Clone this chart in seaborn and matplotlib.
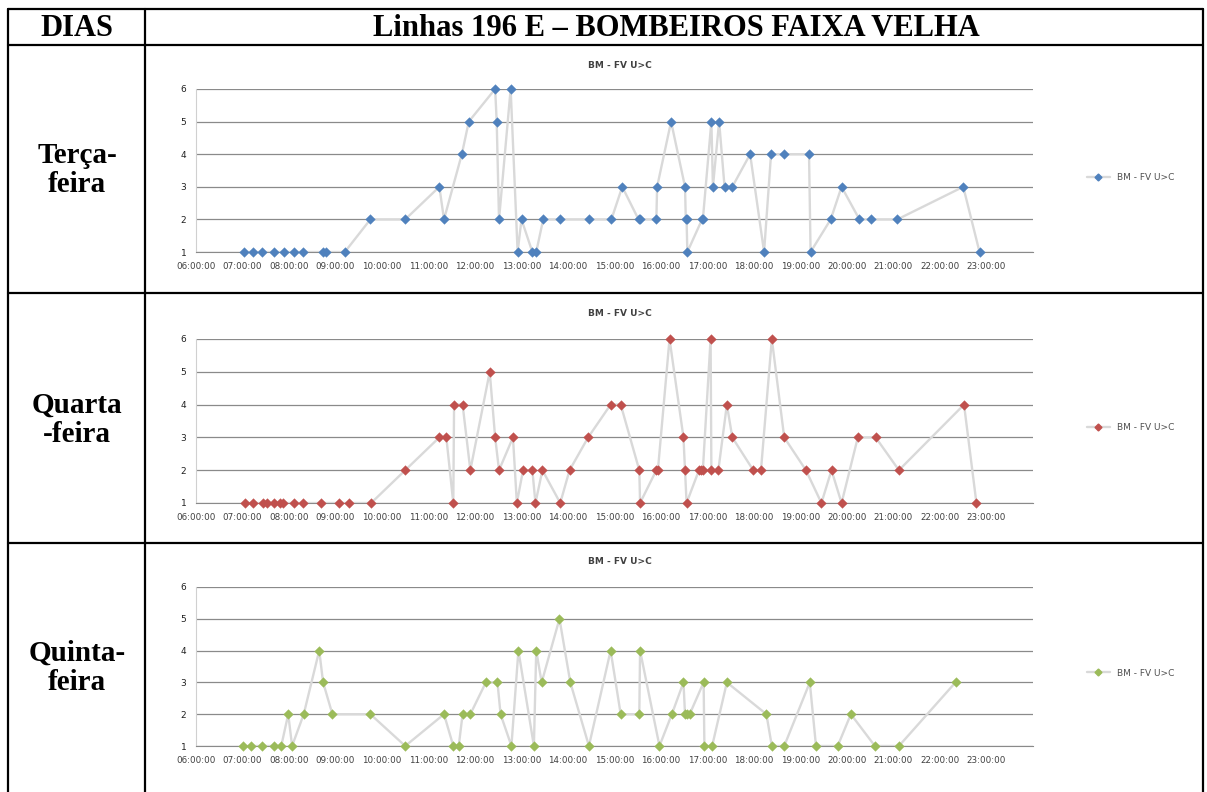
import pandas as pd
import numpy as np
import matplotlib
matplotlib.use("Agg")
import matplotlib.pyplot as plt
from matplotlib.lines import Line2D
import seaborn as sns

# table text
header_left = "DIAS"
header_right = "Linhas 196 E – BOMBEIROS FAIXA VELHA"
day_labels = ["Terça-\nfeira", "Quarta\n-feira", "Quinta-\nfeira"]
series_name = "BM - FV U>C"
hour_labels = ["%02d:00:00" % h for h in range(6, 24)]

# Terça-feira
ter_times = ["07:02", "07:13", "07:25", "07:40", "07:53", "08:07", "08:18", "08:44", "08:48", "09:12",
             "09:45", "10:30", "11:14", "11:20", "11:43", "11:52", "12:26", "12:28", "12:31", "12:46",
             "12:55", "13:00", "13:14", "13:19", "13:28", "13:50", "14:27", "14:56", "15:10", "15:31",
             "15:33", "15:54", "15:55", "16:13", "16:31", "16:32", "16:33", "16:34", "16:53", "16:54",
             "17:05", "17:07", "17:15", "17:22", "17:32", "17:55", "18:13", "18:22", "18:39", "19:11",
             "19:13", "19:39", "19:53", "20:16", "20:31", "21:05", "22:30", "22:51"]
ter_vals = [1, 1, 1, 1, 1, 1, 1, 1, 1, 1,
            2, 2, 3, 2, 4, 5, 6, 5, 2, 6,
            1, 2, 1, 1, 2, 2, 2, 2, 3, 2,
            2, 2, 3, 5, 3, 2, 2, 1, 2, 2,
            5, 3, 5, 3, 3, 4, 1, 4, 4, 4,
            1, 2, 3, 2, 2, 2, 3, 1]

# Quarta-feira
qua_times = ["07:03", "07:14", "07:26", "07:32", "07:40", "07:49", "07:52", "08:07", "08:18", "08:41",
             "09:05", "09:18", "09:46", "10:30", "11:14", "11:23", "11:32", "11:33", "11:44", "11:54",
             "12:19", "12:26", "12:31", "12:49", "12:54", "13:02", "13:14", "13:18", "13:27", "13:50",
             "14:02", "14:26", "14:55", "15:08", "15:32", "15:33", "15:54", "15:56", "16:11", "16:29",
             "16:31", "16:33", "16:49", "16:51", "16:54", "17:04", "17:05", "17:14", "17:25", "17:32",
             "17:59", "18:09", "18:23", "18:39", "19:07", "19:27", "19:40", "19:53", "20:14", "20:37",
             "21:07", "22:31", "22:47"]
qua_vals = [1, 1, 1, 1, 1, 1, 1, 1, 1, 1,
            1, 1, 1, 2, 3, 3, 1, 4, 4, 2,
            5, 3, 2, 3, 1, 2, 2, 1, 2, 1,
            2, 3, 4, 4, 2, 1, 2, 2, 6, 3,
            2, 1, 2, 2, 2, 6, 2, 2, 4, 3,
            2, 2, 6, 3, 2, 1, 2, 1, 3, 3,
            2, 4, 1]

# Quinta-feira
qui_times = ["07:00", "07:11", "07:25", "07:40", "07:50", "07:59", "08:04", "08:19", "08:39", "08:44",
             "08:56", "09:45", "10:30", "11:20", "11:32", "11:39", "11:44", "11:54", "12:14", "12:29",
             "12:33", "12:47", "12:56", "13:16", "13:19", "13:26", "13:49", "14:03", "14:27", "14:55",
             "15:08", "15:32", "15:33", "15:58", "16:14", "16:29", "16:31", "16:34", "16:37", "16:55",
             "16:56", "17:06", "17:25", "18:16", "18:23", "18:39", "19:12", "19:20", "19:48", "20:05",
             "20:36", "21:07", "22:20"]
qui_vals = [1, 1, 1, 1, 1, 2, 1, 2, 4, 3,
            2, 2, 1, 2, 1, 1, 2, 2, 3, 3,
            2, 1, 4, 1, 4, 3, 5, 3, 1, 4,
            2, 2, 4, 1, 2, 3, 2, 2, 2, 3,
            1, 1, 3, 2, 1, 1, 3, 1, 1, 2,
            1, 1, 3]

colors = ["#4F81BD", "#C0504D", "#9BBB59"]


def to_hours(times):
    t = pd.to_datetime(times, format="%H:%M")
    return t.hour + t.minute / 60.0


sns.set_style("white")
plt.rcParams['font.family'] = ['DejaVu Sans']

W, H = 1207, 792
fig = plt.figure(figsize=(W / 100, H / 100), dpi=100)


def fx(x):
    return x / W


def fy(y):
    return 1 - y / H


# table grid
lw = 1.6
for (x0, y0, x1, y1) in [(8, 9, 1203, 9), (8, 45, 1203, 45), (8, 293, 1203, 293), (8, 543, 1203, 543),
                         (8, 9, 8, 792), (145, 9, 145, 792), (1203, 9, 1203, 792)]:
    fig.add_artist(Line2D([fx(x0), fx(x1)], [fy(y0), fy(y1)], color="black", lw=lw,
                          transform=fig.transFigure))

fig.text(fx(77), fy(28), header_left, ha="center", va="center", fontsize=22,
         fontweight="bold", family="Liberation Serif", color="black")
fig.text(fx(676), fy(28), header_right, ha="center", va="center", fontsize=22,
         fontweight="bold", family="Liberation Serif", color="black")

rows = [(ter_times, ter_vals), (qua_times, qua_vals), (qui_times, qui_vals)]
row_px = [(89, 252), (339, 503), (587, 746)]
label_y = [170, 420, 668]
title_y = [66, 313, 562]
legend_y = [178, 428, 673]

for i, ((times, vals), (ytop, ybot)) in enumerate(zip(rows, row_px)):
    df = pd.DataFrame({"hora": to_hours(times), "onibus": vals})
    ax = fig.add_axes([fx(196), fy(ybot), fx(1033) - fx(196), (ybot - ytop) / H])

    sns.lineplot(data=df, x="hora", y="onibus", ax=ax, sort=False, estimator=None,
                 color="#d9d9d9", lw=1.7, zorder=3)
    sns.scatterplot(data=df, x="hora", y="onibus", ax=ax, marker="D", s=24,
                    color=colors[i], edgecolor=colors[i], linewidth=0.3, zorder=4)
    for c in ax.collections:
        c.set_clip_on(False)

    ax.set_xlim(6, 24)
    ax.set_ylim(1, 6)
    ax.set_xticks(range(6, 24))
    ax.set_xticklabels(hour_labels, fontsize=6.3, color="#404040")
    ax.set_yticks(range(1, 7))
    ax.set_yticklabels([str(v) for v in range(1, 7)], fontsize=6.5, color="#202020")
    ax.yaxis.grid(True, color="#8a8a8a", lw=0.9)
    ax.xaxis.grid(False)
    ax.set_xlabel("")
    ax.set_ylabel("")
    for s in ["top", "right"]:
        ax.spines[s].set_visible(False)
    ax.spines["left"].set_color("#d0d0d0")
    ax.spines["bottom"].set_color("#8a8a8a")
    ax.tick_params(axis="both", length=3, width=0.6, color="#bdbdbd", pad=4)

    fig.text(fx(620), fy(title_y[i]), series_name, ha="center", va="center",
             fontsize=6.5, fontweight="bold", color="#404040")
    fig.text(fx(77), fy(label_y[i]), day_labels[i], ha="center", va="center", fontsize=21,
             fontweight="bold", family="Liberation Serif", linespacing=1.1, color="black")

    handle = Line2D([], [], color="#d9d9d9", lw=1.7, marker="D", markersize=3.5,
                    markerfacecolor=colors[i], markeredgecolor=colors[i])
    ax.legend([handle], [series_name], loc="center left", frameon=False,
              bbox_to_anchor=(1.055, (ybot - legend_y[i]) / (ybot - ytop)),
              fontsize=6.5, handlelength=2.5, labelcolor="#505050")

fig.savefig("out.png", dpi=100)
